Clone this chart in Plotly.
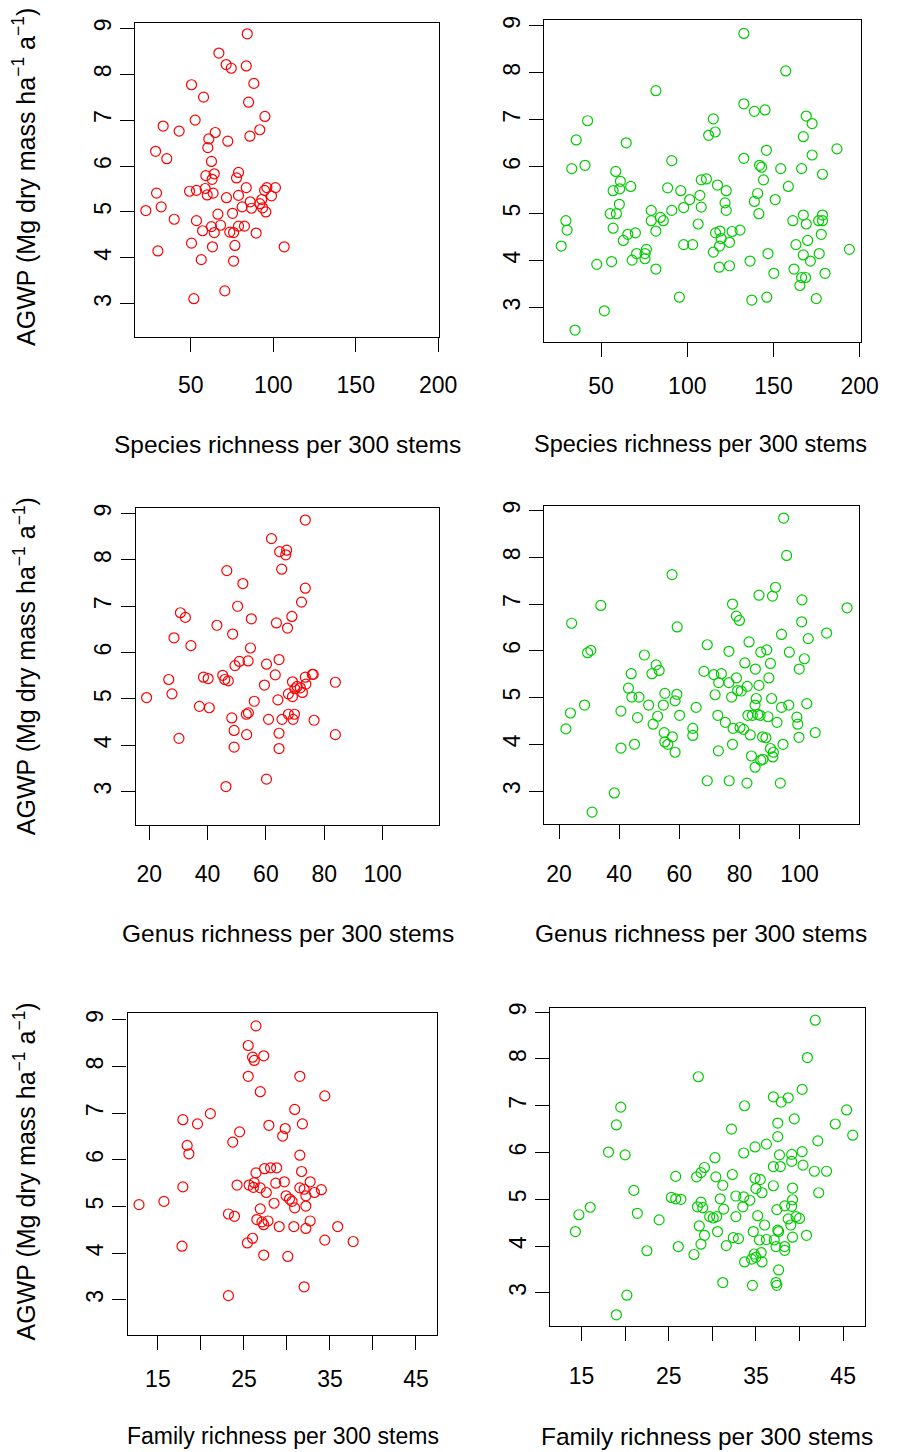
import plotly.graph_objects as go

# AGWP (Mg dry mass ha-1 a-1) against taxonomic richness per 300 stems,
# for two groups of forest plots (group A in red, group B in green).

# ---- species richness ----
species_a = [84.2, 67.0, 71.4, 74.5, 83.6, 50.4, 88.2, 57.7, 85.0, 52.6,
             94.9, 33.2, 42.9, 64.8, 91.8, 85.8, 72.4, 60.9, 60.3, 28.6,
             35.4, 62.5, 78.9, 77.7, 59.1, 64.2, 62.9, 83.6, 96.1, 101.3,
             94.7, 98.9, 93.0, 86.0, 91.8, 93.5, 95.5, 86.8, 81.1, 78.9,
             71.6, 29.2, 49.2, 53.4, 58.7, 59.9, 63.5, 22.7, 32.0, 75.3,
             66.4, 39.9, 53.4, 62.5, 68.0, 78.9, 82.5, 57.1, 64.2, 73.6,
             75.9, 89.6, 50.4, 63.1, 76.7, 106.6, 30.0, 56.3, 75.9, 70.6,
             51.8]
agwp_species_a = [8.88, 8.46, 8.21, 8.13, 8.18, 7.77, 7.80, 7.50, 7.39, 7.00,
                  7.08, 6.87, 6.76, 6.73, 6.79, 6.65, 6.54, 6.59, 6.40, 6.32,
                  6.16, 6.10, 5.86, 5.74, 5.79, 5.83, 5.71, 5.53, 5.53, 5.53,
                  5.47, 5.35, 5.27, 5.22, 5.18, 5.09, 5.00, 5.08, 5.11, 5.36,
                  5.31, 5.41, 5.45, 5.47, 5.51, 5.37, 5.41, 5.03, 5.11, 4.97,
                  4.95, 4.84, 4.81, 4.68, 4.71, 4.69, 4.69, 4.59, 4.55, 4.56,
                  4.55, 4.54, 4.32, 4.24, 4.27, 4.24, 4.15, 3.96, 3.93, 3.28,
                  3.11]

species_b = [132.8, 157.1, 81.8, 132.8, 138.9, 145.1, 169.0, 172.4, 115.1, 112.4,
             116.2, 42.2, 35.6, 64.6, 167.3, 186.8, 145.9, 172.4, 132.8, 91.0,
             40.7, 33.0, 141.9, 143.1, 154.2, 166.3, 178.4, 58.5, 61.2, 60.8,
             57.0, 67.2, 88.6, 96.2, 108.1, 111.1, 117.5, 122.6, 144.2, 158.6,
             140.8, 138.9, 151.0, 107.3, 101.4, 108.1, 97.9, 91.0, 121.9, 122.6,
             60.6, 55.3, 58.9, 79.1, 84.4, 79.1, 86.1, 141.5, 167.3, 178.4,
             161.2, 169.0, 176.2, 178.4, 29.6, 30.3, 57.0, 106.3, 65.5, 69.9,
             62.9, 81.8, 116.4, 118.9, 126.0, 130.6, 119.6, 124.5, 118.7, 177.7,
             169.8, 163.0, 26.9, 97.9, 103.1, 70.6, 76.3, 75.5, 68.0, 75.5,
             115.1, 146.8, 167.3, 176.5, 171.4, 136.4, 56.1, 47.5, 81.8, 118.5,
             124.5, 150.2, 161.9, 179.9, 166.3, 168.6, 165.3, 95.4, 137.4, 146.1,
             174.8, 51.9, 34.9, 194.0]
agwp_species_b = [8.84, 8.04, 7.62, 7.34, 7.18, 7.21, 7.08, 6.92, 7.02, 6.67,
                  6.74, 6.98, 6.57, 6.51, 6.64, 6.38, 6.35, 6.25, 6.18, 6.13,
                  6.03, 5.96, 6.03, 5.99, 5.96, 5.96, 5.84, 5.90, 5.69, 5.53,
                  5.49, 5.58, 5.55, 5.49, 5.72, 5.74, 5.61, 5.49, 5.72, 5.58,
                  5.43, 5.26, 5.30, 5.39, 5.30, 5.14, 5.13, 5.07, 5.23, 5.07,
                  5.20, 5.00, 5.00, 5.07, 4.92, 4.85, 4.85, 5.00, 4.97, 4.97,
                  4.85, 4.78, 4.85, 4.85, 4.85, 4.65, 4.69, 4.78, 4.56, 4.59,
                  4.43, 4.63, 4.59, 4.63, 4.62, 4.65, 4.47, 4.39, 4.31, 4.56,
                  4.43, 4.34, 4.31, 4.34, 4.34, 4.15, 4.24, 4.15, 4.01, 4.04,
                  4.18, 4.15, 4.12, 4.15, 3.99, 3.99, 3.98, 3.92, 3.82, 3.86,
                  3.89, 3.73, 3.82, 3.73, 3.64, 3.64, 3.47, 3.22, 3.16, 3.22,
                  3.19, 2.93, 2.52, 4.24]

# ---- genus richness ----
genus_a = [73.5, 61.9, 64.7, 67.1, 66.8, 65.4, 46.6, 52.1, 73.5, 72.2,
           50.3, 30.7, 32.4, 55.0, 68.9, 63.6, 67.4, 43.2, 48.6, 28.5,
           34.3, 54.7, 64.5, 53.9, 50.9, 49.4, 60.2, 63.2, 75.9, 73.5,
           69.1, 73.7, 70.7, 69.9, 72.5, 67.7, 69.1, 71.8, 83.8, 59.5,
           45.2, 45.9, 47.1, 38.6, 40.2, 26.7, 27.8, 19.1, 56.0, 64.1,
           37.2, 40.6, 53.3, 54.0, 67.7, 69.8, 48.3, 60.9, 65.5, 69.3,
           76.5, 49.1, 53.4, 64.5, 83.8, 30.2, 49.1, 64.5, 60.2, 46.3,
           76.2]
agwp_genus_a = [8.86, 8.46, 8.18, 8.21, 8.11, 7.80, 7.77, 7.49, 7.39, 7.09,
                7.00, 6.86, 6.76, 6.73, 6.78, 6.64, 6.53, 6.59, 6.40, 6.32,
                6.15, 6.10, 5.85, 5.82, 5.81, 5.72, 5.75, 5.52, 5.53, 5.47,
                5.37, 5.32, 5.27, 5.22, 5.14, 5.11, 5.05, 5.24, 5.36, 5.30,
                5.51, 5.42, 5.39, 5.47, 5.44, 5.42, 5.11, 5.03, 4.95, 4.98,
                4.84, 4.81, 4.67, 4.70, 4.67, 4.67, 4.59, 4.56, 4.56, 4.56,
                4.54, 4.32, 4.23, 4.26, 4.23, 4.15, 3.96, 3.93, 3.27, 3.11,
                5.53]

genus_b = [94.7, 95.7, 57.6, 92.0, 86.5, 91.0, 100.8, 115.8, 33.9, 77.7,
           79.0, 80.0, 100.7, 24.2, 59.3, 109.0, 94.0, 102.9, 83.2, 69.3,
           29.5, 30.6, 76.5, 87.1, 89.1, 96.6, 48.4, 101.6, 81.8, 90.3,
           52.3, 53.3, 50.9, 85.3, 99.9, 68.2, 71.5, 74.0, 44.0, 79.0,
           89.8, 73.1, 76.5, 86.5, 82.6, 43.1, 79.4, 80.6, 71.9, 55.2,
           59.2, 44.2, 46.6, 77.4, 85.6, 90.7, 58.6, 28.5, 49.8, 54.7,
           85.2, 96.4, 102.4, 94.0, 65.6, 23.8, 40.6, 52.8, 60.1, 46.1,
           72.8, 82.8, 84.3, 86.1, 86.9, 89.5, 99.1, 99.4, 92.5, 75.3,
           51.3, 22.3, 64.5, 64.5, 77.9, 80.2, 81.4, 83.6, 87.7, 88.8,
           99.8, 105.2, 55.0, 57.7, 55.2, 56.2, 45.1, 77.7, 94.5, 90.3,
           91.3, 91.1, 40.6, 58.6, 73.0, 84.0, 87.1, 87.8, 85.2, 69.3,
           76.6, 82.5, 93.6, 38.4, 31.0]
agwp_genus_b = [8.84, 8.04, 7.63, 7.36, 7.19, 7.17, 7.09, 6.92, 6.97, 7.00,
                6.74, 6.65, 6.62, 6.59, 6.51, 6.38, 6.35, 6.26, 6.19, 6.13,
                5.96, 6.01, 5.99, 5.97, 6.02, 5.97, 5.91, 5.83, 5.74, 5.73,
                5.70, 5.58, 5.51, 5.61, 5.61, 5.56, 5.49, 5.51, 5.51, 5.42,
                5.42, 5.32, 5.32, 5.26, 5.24, 5.20, 5.15, 5.14, 5.06, 5.09,
                5.07, 5.01, 5.01, 5.01, 4.98, 4.98, 4.93, 4.84, 4.84, 4.84,
                4.84, 4.84, 4.87, 4.79, 4.79, 4.67, 4.71, 4.60, 4.62, 4.57,
                4.62, 4.62, 4.62, 4.64, 4.62, 4.59, 4.58, 4.43, 4.47, 4.47,
                4.43, 4.33, 4.34, 4.19, 4.34, 4.36, 4.32, 4.20, 4.16, 4.14,
                4.15, 4.25, 4.25, 4.16, 4.05, 4.00, 4.00, 4.00, 4.00, 3.91,
                3.83, 3.73, 3.92, 3.83, 3.86, 3.75, 3.66, 3.68, 3.51, 3.22,
                3.22, 3.17, 3.17, 2.96, 2.55]

# ---- family richness ----
family_a = [26.4, 25.5, 26.0, 26.2, 27.3, 25.5, 31.5, 26.9, 34.4, 30.9,
            21.1, 17.9, 19.6, 27.9, 31.8, 29.8, 24.5, 29.5, 23.7, 18.4,
            18.6, 31.5, 27.4, 28.1, 28.8, 26.4, 31.7, 29.7, 28.7, 32.7,
            24.2, 25.6, 26.2, 26.1, 26.9, 17.9, 27.6, 31.5, 32.0, 33.2,
            34.0, 32.2, 29.9, 30.3, 30.6, 30.9, 32.2, 28.5, 12.8, 15.7,
            26.9, 23.2, 23.9, 26.5, 27.1, 27.8, 27.3, 32.7, 29.1, 30.8,
            32.2, 35.9, 26.0, 25.4, 34.4, 37.7, 17.8, 27.3, 30.1, 32.0,
            23.2]
agwp_family_a = [8.87, 8.45, 8.20, 8.13, 8.23, 7.79, 7.79, 7.46, 7.37, 7.08,
                 6.99, 6.86, 6.77, 6.74, 6.77, 6.67, 6.60, 6.51, 6.38, 6.31,
                 6.13, 6.10, 5.81, 5.83, 5.83, 5.72, 5.75, 5.53, 5.50, 5.53,
                 5.46, 5.46, 5.51, 5.41, 5.40, 5.42, 5.30, 5.40, 5.37, 5.30,
                 5.36, 5.23, 5.23, 5.16, 5.11, 4.97, 5.01, 5.07, 5.04, 5.11,
                 4.95, 4.84, 4.79, 4.72, 4.67, 4.69, 4.61, 4.69, 4.57, 4.57,
                 4.53, 4.57, 4.32, 4.22, 4.28, 4.25, 4.15, 3.96, 3.93, 3.28,
                 3.09]

family_b = [41.8, 40.9, 28.4, 40.3, 37.0, 38.7, 37.9, 45.4, 19.5, 33.7,
            39.4, 37.5, 19.0, 32.2, 44.1, 46.1, 37.5, 42.1, 36.2, 34.9,
            33.6, 18.1, 20.0, 37.7, 39.1, 40.3, 30.3, 39.1, 40.4, 37.0,
            37.8, 29.1, 28.7, 28.2, 25.8, 30.4, 32.3, 41.7, 43.1, 34.9,
            35.5, 35.0, 31.2, 37.0, 39.2, 35.7, 42.2, 21.0, 32.7, 33.6,
            34.3, 30.9, 25.3, 25.8, 26.4, 39.2, 28.7, 28.3, 28.9, 16.0,
            33.5, 31.3, 38.3, 39.1, 37.4, 14.7, 21.4, 29.7, 30.1, 30.5,
            32.7, 35.2, 38.7, 39.6, 40.0, 39.0, 23.9, 28.5, 36.0, 14.3,
            30.6, 29.1, 34.7, 37.5, 37.6, 39.2, 40.8, 32.4, 33.0, 35.4,
            36.2, 37.1, 26.1, 28.7, 31.6, 37.3, 38.3, 38.3, 22.5, 27.9,
            33.7, 34.5, 34.8, 35.0, 35.6, 35.7, 37.6, 31.2, 34.6, 37.3,
            37.4, 20.2, 19.0]
agwp_family_b = [8.83, 8.03, 7.62, 7.35, 7.19, 7.17, 7.08, 6.91, 6.97, 7.00,
                 6.72, 6.63, 6.59, 6.50, 6.61, 6.37, 6.34, 6.25, 6.18, 6.12,
                 5.99, 6.01, 5.95, 5.95, 5.96, 6.02, 5.89, 5.81, 5.73, 5.70,
                 5.70, 5.68, 5.57, 5.48, 5.49, 5.48, 5.53, 5.60, 5.60, 5.45,
                 5.42, 5.23, 5.30, 5.29, 5.24, 5.14, 5.14, 5.19, 5.07, 5.05,
                 4.98, 5.01, 5.04, 5.01, 5.00, 4.99, 4.94, 4.84, 4.82, 4.83,
                 4.84, 4.79, 4.86, 4.85, 4.78, 4.67, 4.70, 4.63, 4.60, 4.63,
                 4.63, 4.65, 4.58, 4.63, 4.59, 4.45, 4.56, 4.43, 4.45, 4.31,
                 4.31, 4.23, 4.31, 4.34, 4.31, 4.19, 4.23, 4.18, 4.16, 4.13,
                 4.14, 4.13, 3.99, 4.04, 4.01, 3.99, 3.99, 3.91, 3.90, 3.82,
                 3.66, 3.72, 3.83, 3.76, 3.86, 3.66, 3.49, 3.22, 3.16, 3.22,
                 3.16, 2.95, 2.53]

# ---- axis ticks and labels ----
agwp_ticks = [3, 4, 5, 6, 7, 8, 9]
species_ticks = [50, 100, 150, 200]
genus_ticks = [20, 40, 60, 80, 100]
family_ticks = [15, 25, 35, 45]          # labelled
family_minor_ticks = [20, 30, 40]        # unlabelled tick marks in between

species_title = "Species richness per 300 stems"
genus_title = "Genus richness per 300 stems"
family_title = "Family richness per 300 stems"
agwp_title = "AGWP (Mg dry mass ha<sup>−1</sup> a<sup>−1</sup>)"

RED = "#FF0000"
GREEN = "#00CD00"
W, H = 901, 1452
FONT = "Liberation Sans, Arial, Helvetica, sans-serif"

# Each panel: data, colour, plot box in pixels (left, top, right, bottom),
# axis ranges, tick definitions, x-title centre/size, tick-label standoff.
panels = [
    dict(x=species_a, y=agwp_species_a, color=RED, box=(137.7, 18.3, 448.3, 332.7),
         xr=[16.0, 200.4], yr=[2.285, 9.11], xt=species_ticks, minor=None,
         title=species_title, tpos=(294, 441), tsize=24.5, standoff=14),
    dict(x=species_b, y=agwp_species_b, color=GREEN, box=(555.7, 15.0, 879.3, 338.3),
         xr=[16.9, 200.6], yr=[2.263, 9.127], xt=species_ticks, minor=None,
         title=species_title, tpos=(716, 441), tsize=23.5, standoff=9),
    dict(x=genus_a, y=agwp_genus_a, color=RED, box=(138.7, 505.0, 448.7, 822.7),
         xr=[15.4, 119.4], yr=[2.283, 9.115], xt=genus_ticks, minor=None,
         title=genus_title, tpos=(294, 932), tsize=24.5, standoff=14),
    dict(x=genus_b, y=agwp_genus_b, color=GREEN, box=(555.7, 502.3, 877.3, 821.7),
         xr=[15.0, 119.7], yr=[2.298, 9.107], xt=genus_ticks, minor=None,
         title=genus_title, tpos=(716, 932), tsize=24.5, standoff=15),
    dict(x=family_a, y=agwp_family_a, color=RED, box=(130.3, 1011.7, 446.0, 1334.3),
         xr=[11.47, 47.4], yr=[2.253, 9.142], xt=family_ticks, minor=family_minor_ticks,
         title=family_title, tpos=(289, 1436), tsize=23, standoff=10),
    dict(x=family_b, y=agwp_family_b, color=GREEN, box=(561.7, 1006.0, 883.3, 1325.7),
         xr=[11.37, 47.47], yr=[2.288, 9.10], xt=family_ticks, minor=family_minor_ticks,
         title=family_title, tpos=(722, 1436), tsize=24.5, standoff=15),
]

fig = go.Figure()
layout = dict(
    width=W, height=H,
    margin=dict(l=0, r=0, t=0, b=0),
    paper_bgcolor="white", plot_bgcolor="white",
    showlegend=False,
    font=dict(family=FONT, color="black"),
    annotations=[],
)

common = dict(
    ticks="outside", ticklen=14, tickwidth=1.2, tickcolor="black",
    showline=True, linecolor="black", linewidth=1.2, mirror=True,
    showgrid=False, zeroline=False, fixedrange=True,
    tickfont=dict(family=FONT, size=23, color="black"),
)

for i, p in enumerate(panels, start=1):
    sx = "" if i == 1 else str(i)
    l, t, r, b = p["box"]
    fig.add_trace(go.Scatter(
        x=p["x"], y=p["y"], mode="markers",
        xaxis="x" + sx, yaxis="y" + sx,
        marker=dict(symbol="circle-open", size=10, color=p["color"],
                    line=dict(width=1.2, color=p["color"])),
        hoverinfo="x+y",
    ))
    xa = dict(common, domain=[l / W, r / W], range=p["xr"], anchor="y" + sx,
              tickmode="array", tickvals=p["xt"], ticklabelstandoff=p["standoff"])
    if p["minor"] is not None:
        xa["minor"] = dict(tickmode="array", tickvals=p["minor"], ticks="outside",
                           ticklen=14, tickwidth=1.2, tickcolor="black",
                           showgrid=False)
    ya = dict(common, domain=[1 - b / H, 1 - t / H], range=p["yr"], anchor="x" + sx,
              tickmode="array", tickvals=agwp_ticks, tickangle=-90)
    layout["xaxis" + sx] = xa
    layout["yaxis" + sx] = ya
    tx, ty = p["tpos"]
    layout["annotations"].append(dict(
        text=p["title"], x=tx / W, y=1 - ty / H, xref="paper", yref="paper",
        xanchor="center", yanchor="middle", showarrow=False,
        font=dict(family=FONT, size=p["tsize"], color="black"),
    ))

# y-axis title beside each left-hand panel
for cy in (172, 663, 1170):
    layout["annotations"].append(dict(
        text=agwp_title, x=25 / W, y=1 - cy / H, xref="paper", yref="paper",
        xanchor="center", yanchor="middle", textangle=-90, showarrow=False,
        font=dict(family=FONT, size=25, color="black"),
    ))

fig.update_layout(**layout)
fig.write_html("out.html")
